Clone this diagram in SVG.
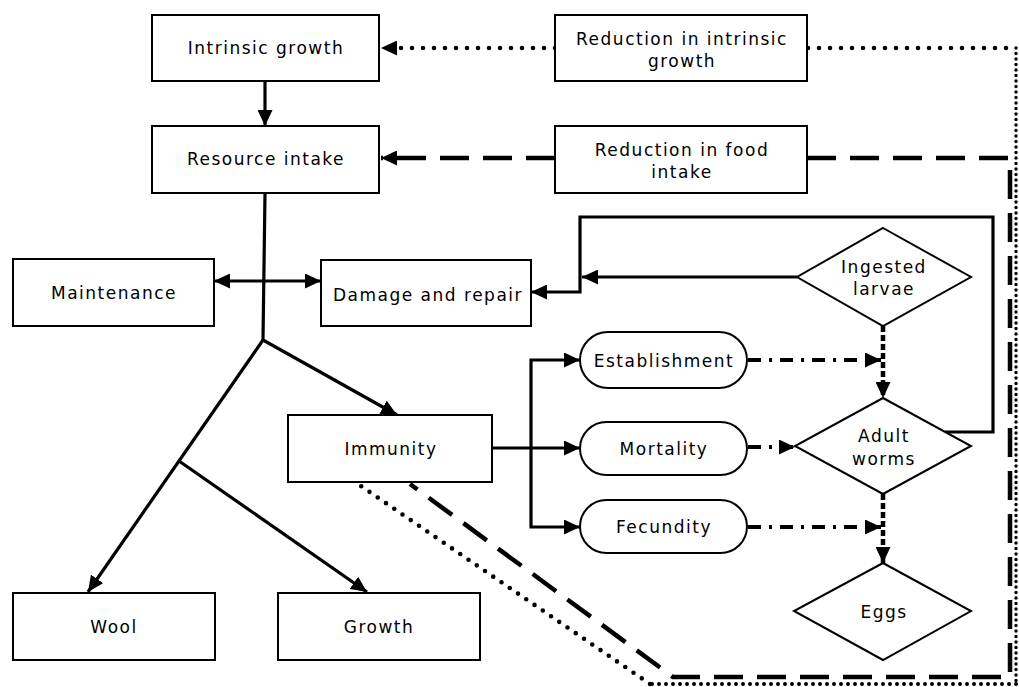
<svg xmlns="http://www.w3.org/2000/svg" width="1019" height="687" viewBox="0 0 1019 687">
<style>
.box{fill:#fff;stroke:#000;stroke-width:2}
.t{font-family:"DejaVu Sans",Verdana,sans-serif;font-size:17px;letter-spacing:1.5px;fill:#000;text-anchor:middle}
.c{fill:none;stroke:#000;stroke-width:3.2}
.dash{fill:none;stroke:#000;stroke-width:4.5;stroke-dasharray:29 14}
.dot{fill:none;stroke:#000;stroke-width:4.6;stroke-linecap:round}
.dd{fill:none;stroke:#000;stroke-width:3.8;stroke-dasharray:13 8 3 8}
.sd{fill:none;stroke:#000;stroke-width:4.5;stroke-dasharray:6 3}
</style>
<defs>
<marker id="ah" markerUnits="userSpaceOnUse" markerWidth="17" markerHeight="15" refX="16" refY="7.5" orient="auto-start-reverse">
<path d="M0,0 L16,7.5 L0,15 z" fill="#000"/>
</marker>
</defs>
<g id="connectors">
<line class="c" x1="265" y1="81" x2="265" y2="126" marker-end="url(#ah)"/>
<path class="dot" style="stroke-dasharray:0 11" d="M555,48 L381,48" marker-end="url(#ah)"/>
<path class="dot" style="stroke-dasharray:0 11" d="M808,48 L1016,48"/>
<path class="dot" style="stroke-dasharray:0 5.5;stroke-width:3.4" d="M1016,48 L1016,684"/>
<path class="dot" style="stroke-dasharray:0 7;stroke-width:4" d="M1016,684 L650,684"/>
<path class="dot" style="stroke-dasharray:0 10" d="M650,684 L358,484"/>
<path class="dash" d="M555,158 L381,158" marker-end="url(#ah)"/>
<path class="dash" d="M807,158 L1010,158 L1010,677 L673,677 L410,484"/>
<polyline class="c" points="265,193 263,340 397,415" marker-end="url(#ah)"/>
<line class="c" x1="263" y1="340" x2="88" y2="592" marker-end="url(#ah)"/>
<line class="c" x1="179" y1="461" x2="367" y2="592" marker-end="url(#ah)"/>
<line class="c" x1="214" y1="281" x2="321" y2="281" marker-start="url(#ah)" marker-end="url(#ah)"/>
<polyline class="c" points="945,432 993,432 993,217 580,217 580,292 531,292" marker-end="url(#ah)"/>
<line class="c" x1="797" y1="277" x2="582" y2="277" marker-end="url(#ah)"/>
<line class="c" x1="492" y1="448" x2="580" y2="448" marker-end="url(#ah)"/>
<polyline class="c" points="580,360 531,360 531,527 580,527" marker-start="url(#ah)" marker-end="url(#ah)"/>
<line class="dd" x1="748" y1="360" x2="881" y2="360" marker-end="url(#ah)"/>
<line class="dd" x1="748" y1="447" x2="795" y2="447" marker-end="url(#ah)"/>
<line class="dd" x1="748" y1="527" x2="881" y2="527" marker-end="url(#ah)"/>
<line class="sd" x1="883" y1="326" x2="883" y2="398" marker-end="url(#ah)"/>
<line class="sd" x1="883" y1="494" x2="883" y2="563" marker-end="url(#ah)"/>
</g>
<g id="intrinsic-growth"><rect class="box" x="152" y="15" width="227" height="66"/><text class="t" x="266" y="54">Intrinsic growth</text></g>
<g id="resource-intake"><rect class="box" x="152" y="126" width="227" height="67"/><text class="t" x="266" y="165">Resource intake</text></g>
<g id="reduction-intrinsic"><rect class="box" x="555" y="15" width="252" height="66"/><text class="t" x="682" y="45">Reduction in intrinsic</text><text class="t" x="682" y="67">growth</text></g>
<g id="reduction-food"><rect class="box" x="555" y="126" width="252" height="67"/><text class="t" x="682" y="156">Reduction in food</text><text class="t" x="682" y="178">intake</text></g>
<g id="maintenance"><rect class="box" x="13" y="259" width="201" height="67"/><text class="t" x="114" y="299">Maintenance</text></g>
<g id="damage-repair"><rect class="box" x="321" y="260" width="210" height="66"/><text class="t" x="428" y="301">Damage and repair</text></g>
<g id="immunity"><rect class="box" x="288" y="415" width="204" height="67"/><text class="t" x="391" y="455">Immunity</text></g>
<g id="wool"><rect class="box" x="13" y="593" width="202" height="67"/><text class="t" x="114" y="633">Wool</text></g>
<g id="growth"><rect class="box" x="278" y="593" width="202" height="67"/><text class="t" x="379" y="633">Growth</text></g>
<g id="ingested-larvae"><polygon class="box" points="883,228 971,277 883,326 797,277"/><text class="t" x="884" y="273">Ingested</text><text class="t" x="884" y="295">larvae</text></g>
<g id="adult-worms"><polygon class="box" points="883,398 971,446 883,494 795,446"/><text class="t" x="884" y="442">Adult</text><text class="t" x="884" y="465">worms</text></g>
<g id="eggs"><polygon class="box" points="883,563 971,611 883,660 794,611"/><text class="t" x="884" y="618">Eggs</text></g>
<g id="establishment"><rect class="box" x="580" y="332" width="167" height="56" rx="28"/><text class="t" x="664" y="367">Establishment</text></g>
<g id="mortality"><rect class="box" x="580" y="422" width="167" height="53" rx="26.5"/><text class="t" x="664" y="455">Mortality</text></g>
<g id="fecundity"><rect class="box" x="580" y="500" width="167" height="53" rx="26.5"/><text class="t" x="664" y="533">Fecundity</text></g>
</svg>
